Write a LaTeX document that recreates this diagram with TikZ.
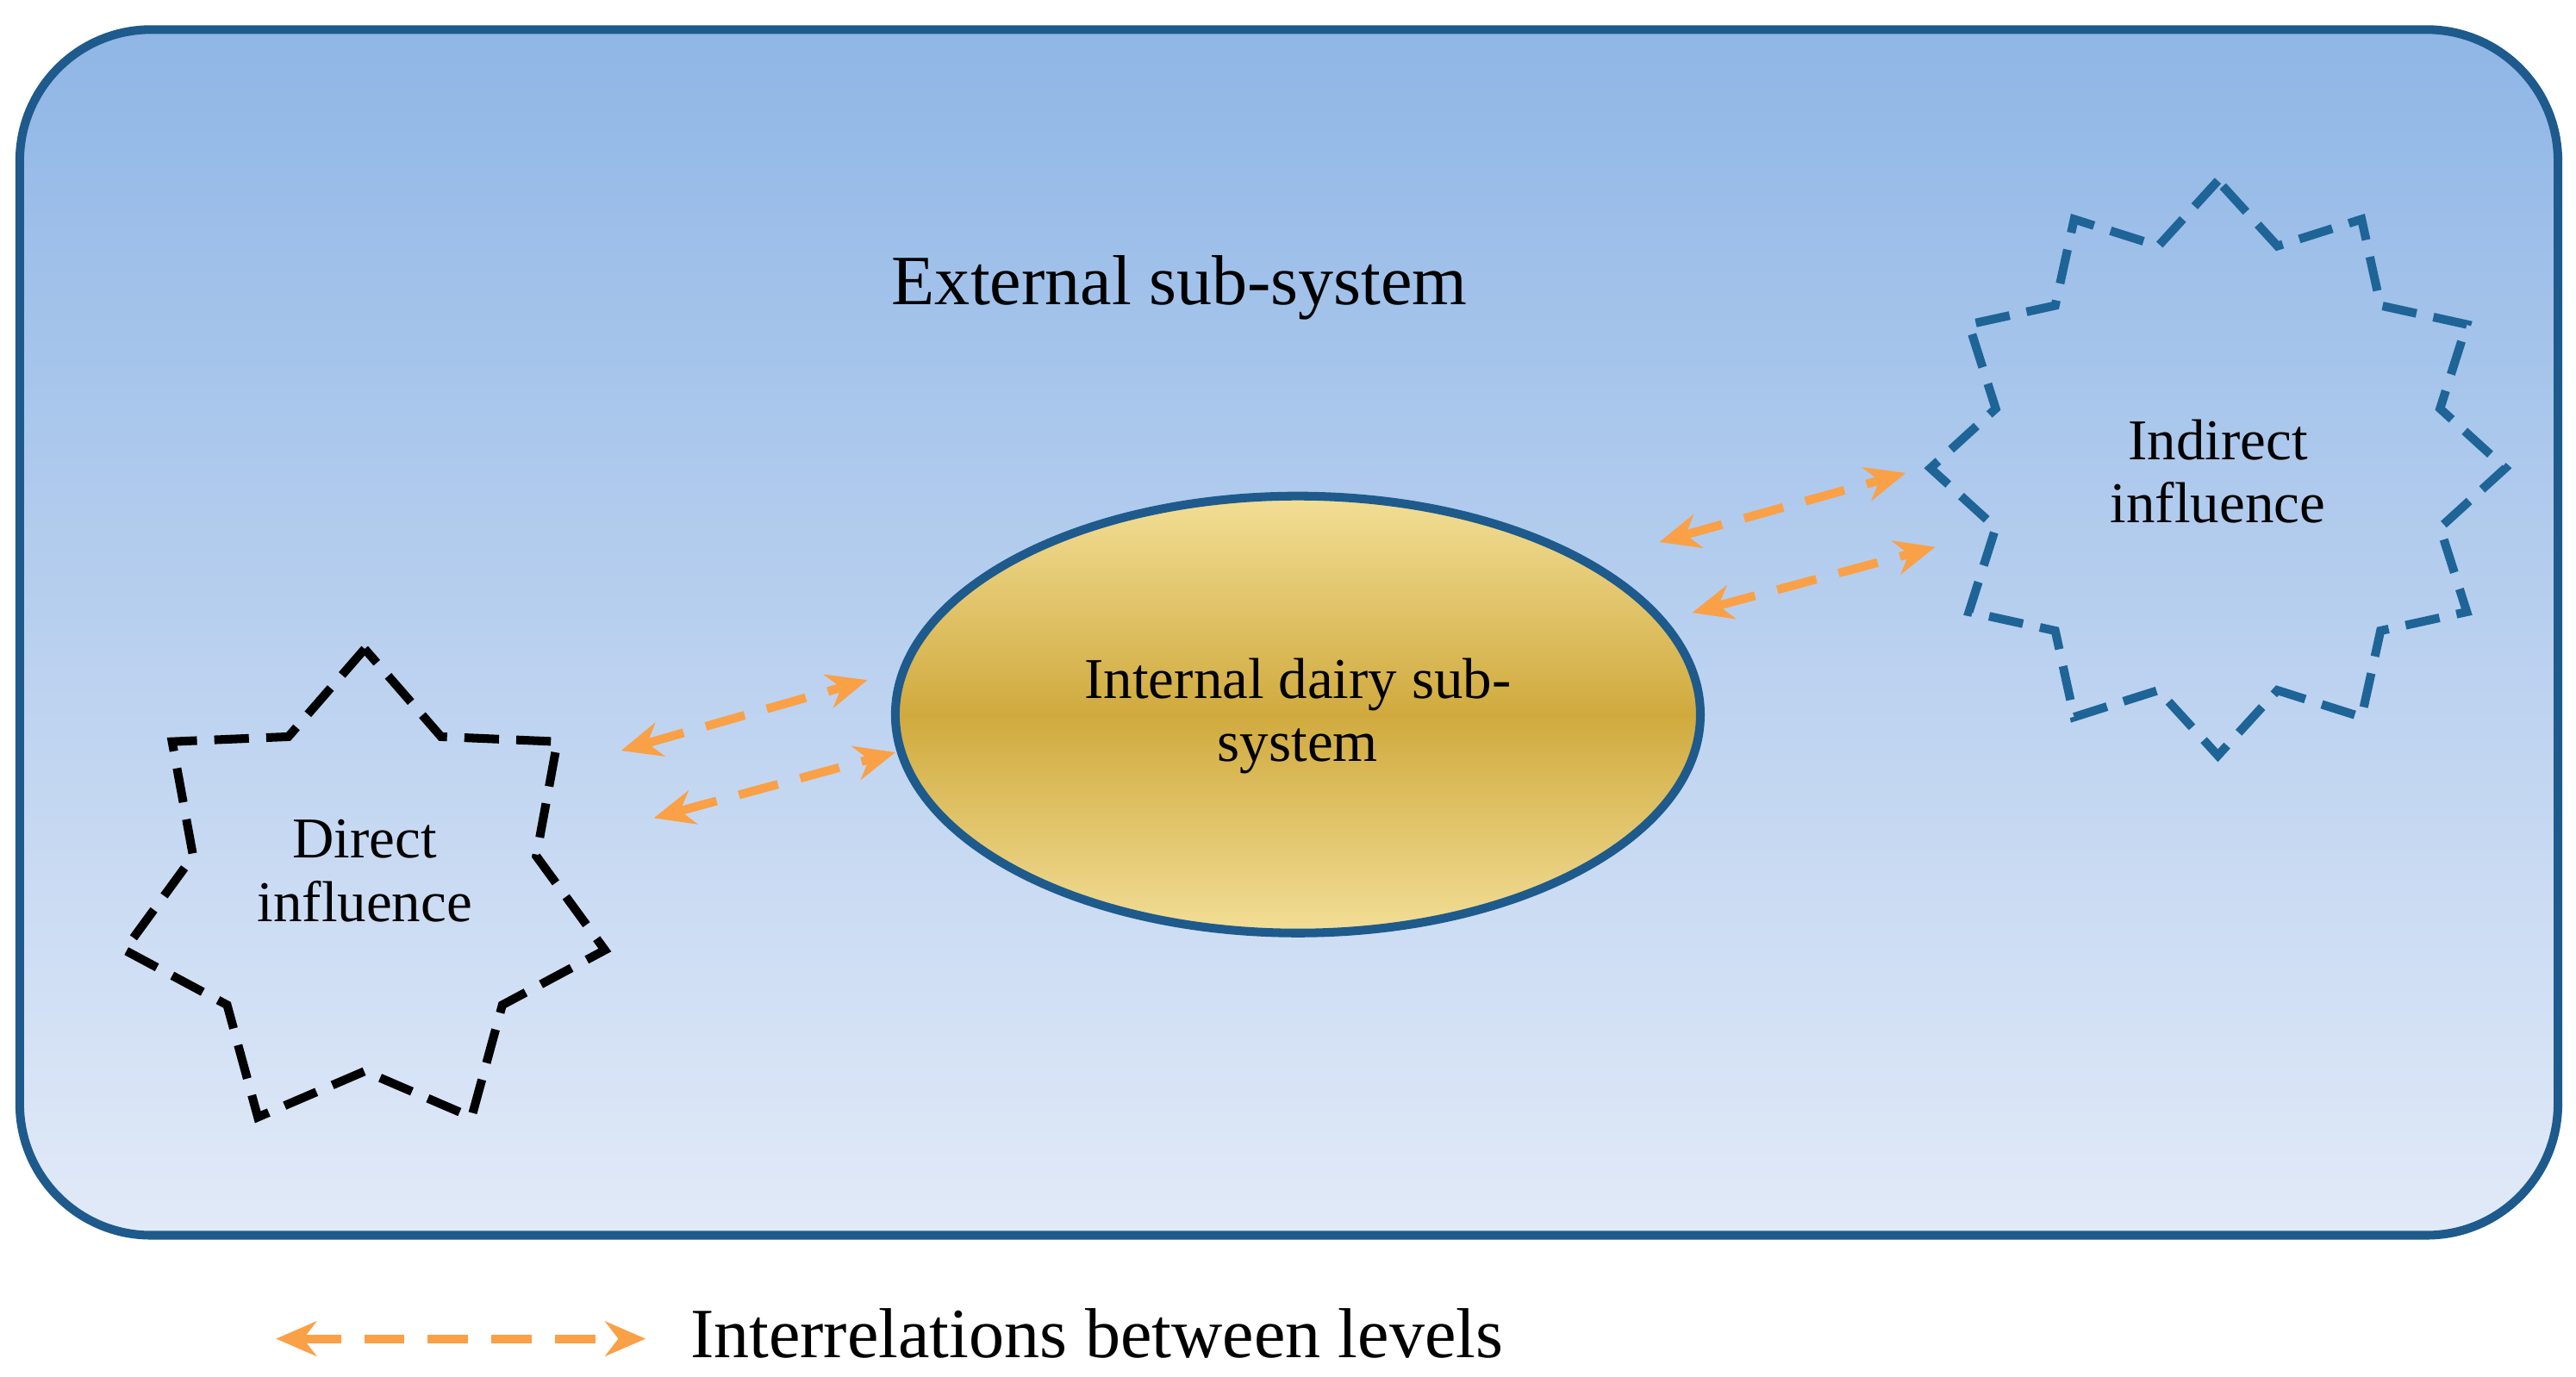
\documentclass[tikz,border=0pt]{standalone}
\usepackage{fontspec}
\setmainfont{Liberation Serif}
\usetikzlibrary{shapes.geometric,arrows.meta}
\definecolor{bord}{RGB}{30,90,140}
\definecolor{sblue}{RGB}{30,100,150}
\definecolor{topb}{RGB}{143,182,230}
\definecolor{botb}{RGB}{226,234,248}
\definecolor{goldl}{RGB}{242,222,150}
\definecolor{goldd}{RGB}{208,170,62}
\definecolor{org}{RGB}{250,160,70}
\tikzset{
  link/.style={org,line width=3pt,dash pattern=on 14pt off 8pt,{Stealth[length=14pt,width=12pt]}-{Stealth[length=14pt,width=12pt]}},
  lbl/.style={font=\fontsize{20}{22}\selectfont,align=center}
}
\begin{document}
\begin{tikzpicture}[x=0.02cm,y=-0.02cm]
\useasboundingbox (0,0) rectangle (1568,838);
\shade[top color=topb,bottom color=botb,rounded corners=1.6cm] (12,18) rectangle (1557,752);
\draw[bord,line width=3pt,rounded corners=1.6cm] (12,18) rectangle (1557,752);
\node[lbl,font=\fontsize{24.5}{27}\selectfont] (ext) at (718,175) {External sub-system};
\shade[top color=goldl,bottom color=goldl,middle color=goldd] (790,435) ellipse [x radius=245,y radius=133];
\draw[bord,line width=3pt] (790,435) ellipse [x radius=245,y radius=133];
\node[lbl] (int) at (790,436) {Internal dairy sub-\\system};
\node[star,star points=7,star point ratio=1.4,minimum size=6cm,draw=black,line width=3pt,dash pattern=on 12pt off 6pt,inner sep=0pt] (dir) at (222,545) {};
\node[lbl] at (222,530) {Direct\\influence};
\node[star,star points=12,star point ratio=1.25,minimum size=7cm,draw=sblue,line width=3pt,dash pattern=on 12pt off 6pt,inner sep=0pt] (ind) at (1350,285) {};
\node[lbl] at (1350,287) {Indirect\\influence};
\coordinate (a1) at (378,457); \coordinate (b1) at (528,414);
\coordinate (a2) at (398,498); \coordinate (b2) at (545,458);
\coordinate (a3) at (1010,330); \coordinate (b3) at (1160,288);
\coordinate (a4) at (1030,373); \coordinate (b4) at (1178,333);
\draw[link] (a1)--(b1);
\draw[link] (a2)--(b2);
\draw[link] (a3)--(b3);
\draw[link] (a4)--(b4);
\coordinate (l1) at (168,815); \coordinate (l2) at (393,815);
\draw[link] (l1)--(l2);
\node[lbl,font=\fontsize{24.5}{27}\selectfont,anchor=west] (leg) at (414,812) {Interrelations between levels};
\end{tikzpicture}
\end{document}
